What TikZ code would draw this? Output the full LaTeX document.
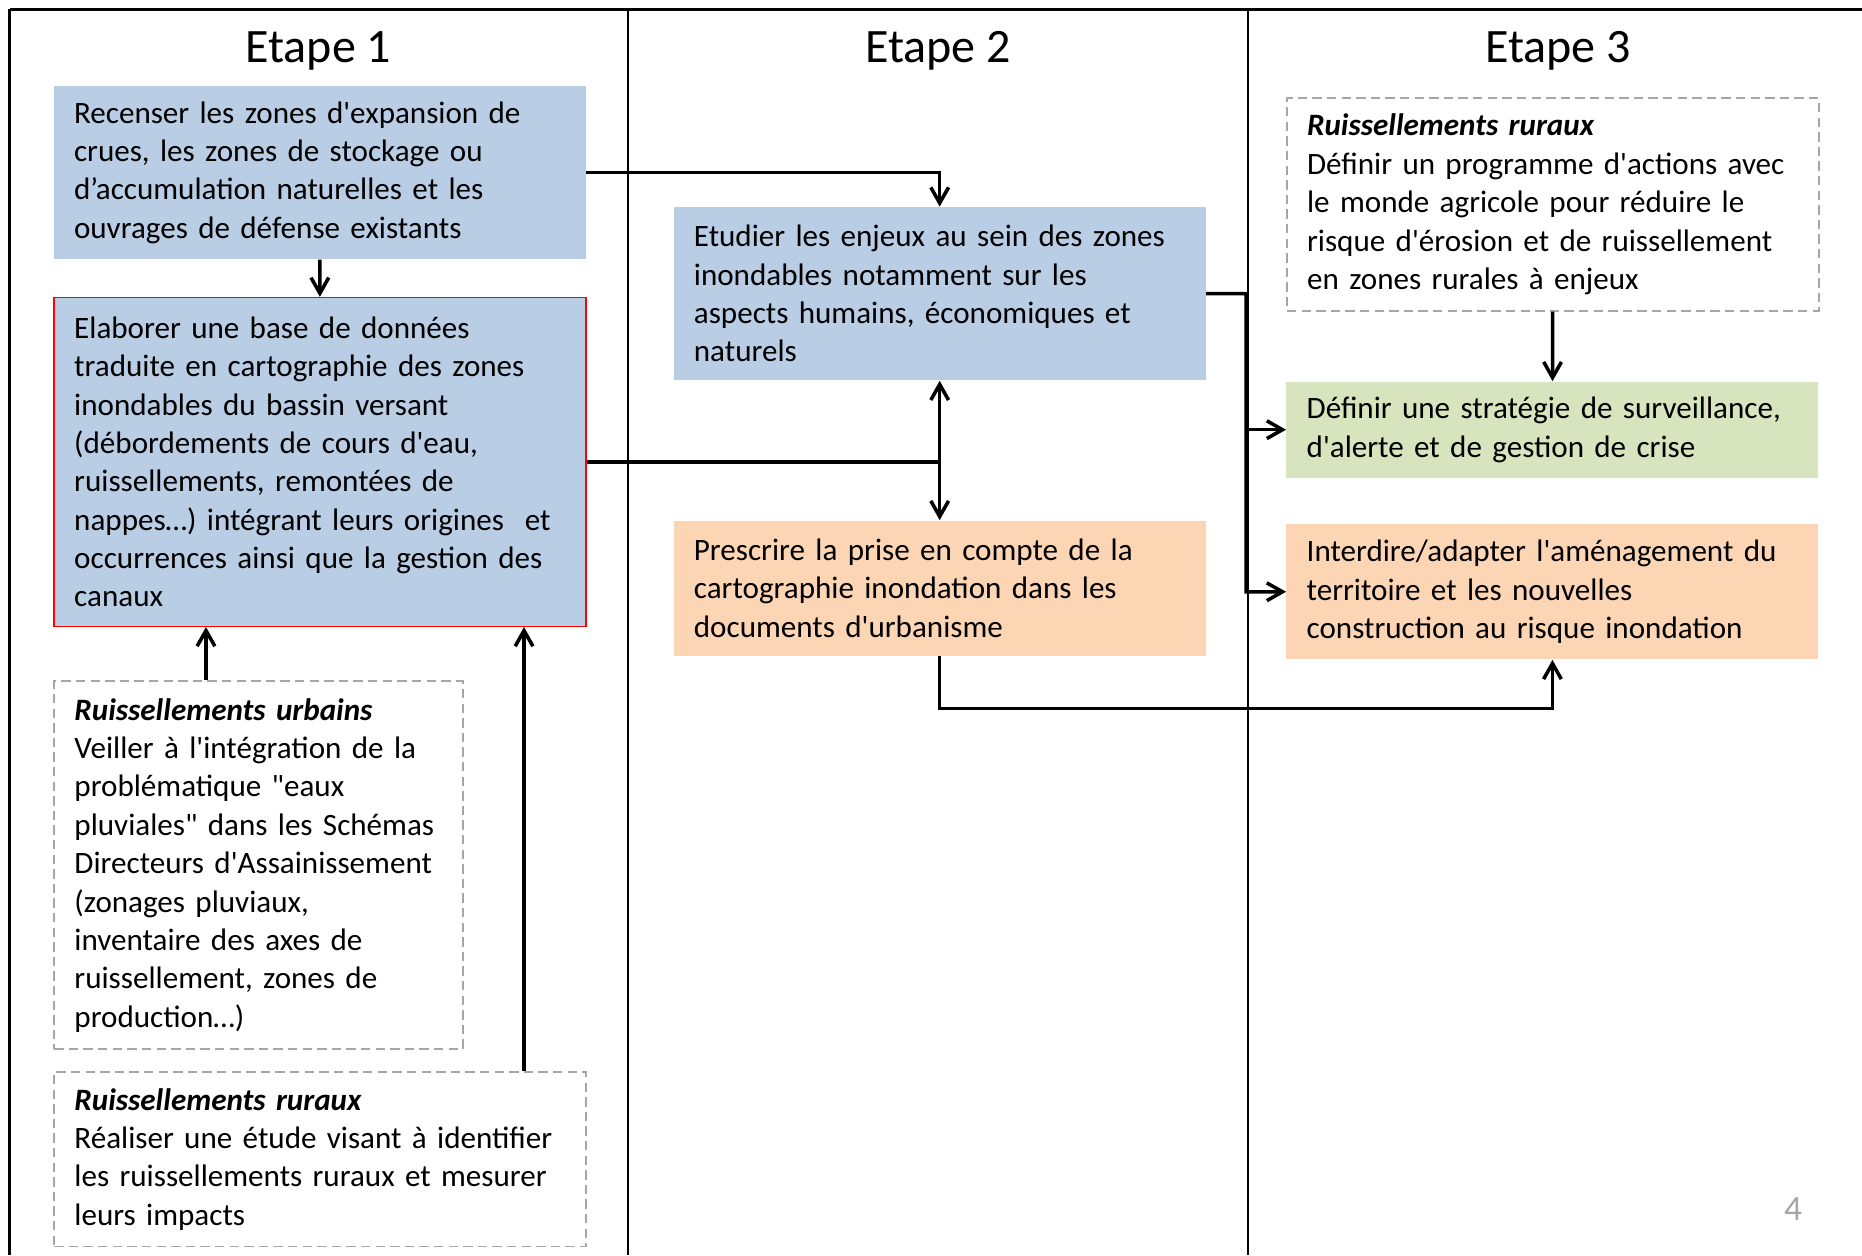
\documentclass[tikz,border=0pt]{standalone}
\usepackage{fontspec}
\setmainfont{Carlito}[Ligatures=TeXOff]
\usetikzlibrary{calc}
\usetikzlibrary{arrows.meta}
\definecolor{bleu}{HTML}{B9CDE5}
\definecolor{saumon}{HTML}{FCD5B5}
\definecolor{vert}{HTML}{D7E4BD}
\definecolor{gristrait}{HTML}{A6A6A6}
\newcommand{\titre}[3]{\node[font=\fontsize{23}{27}\selectfont] (#1) at (#2,43) {#3};}
\newcommand{\rub}[1]{\textbf{\textit{#1}}}
\tikzset{
  bloc/.style={anchor=north west, inner xsep=0.34cm, inner ysep=0pt, text width=8.28cm, align=left, font=\fontsize{14.9}{18.4}\selectfont},
  bleubloc/.style={bloc, fill=bleu},
  saumonbloc/.style={bloc, fill=saumon},
  vertbloc/.style={bloc, fill=vert},
  pointille/.style={bloc, draw=gristrait, line width=0.8pt, dash pattern=on 4.5pt off 2.5pt},
  pointe/.tip={Straight Barb[length=7.5pt,width=8.5pt]},
  fleche/.style={line width=1.7pt, -pointe},
  cadre/.style={line width=1.1pt},
}

\begin{document}
\begin{tikzpicture}[x=0.02cm, y=-0.02cm]
    \useasboundingbox (0,0) rectangle (1568,1057);
    %columns
    \draw[cadre] (8,8) -- (1568,8);
    \draw[cadre] (8,8) -- (8,1057);
    \draw[cadre] (529,8) -- (529,1057);
    \draw[cadre] (1051,8) -- (1051,1057);
    \titre{t1}{268}{Etape 1}
    \titre{t2}{790}{Etape 2}
    \titre{t3}{1312}{Etape 3}
    
    %nodes
    \node[bleubloc, minimum height=2.92cm] (recenser) at (45,72) {Recenser les zones d'expansion de\\ crues, les zones de stockage ou\\ d’accumulation naturelles et les\\ ouvrages de défense existants};
    \node[bleubloc, draw=red, line width=0.6pt, minimum height=5.54cm] (base) at (45,250) {Elaborer une base de données\\ traduite en cartographie des zones\\ inondables du bassin versant\\ (débordements de cours d'eau,\\ ruissellements, remontées de\\ nappes…) intégrant leurs origines~ et\\ occurrences ainsi que la gestion des\\ canaux};
    \node[pointille, text width=6.2cm, minimum height=6.2cm] (urbains) at (45,573) {\rub{Ruissellements urbains}\\ Veiller à l'intégration de la\\ problématique "eaux\\ pluviales" dans les Schémas\\ Directeurs d'Assainissement\\ (zonages pluviaux,\\ inventaire des axes de\\ ruissellement, zones de\\ production…)};
    \node[pointille, minimum height=2.94cm] (ruraux) at (45,902) {\rub{Ruissellements ruraux}\\ Réaliser une étude visant à identifier\\ les ruissellements ruraux et mesurer\\ leurs impacts};
    
    \node[bleubloc, minimum height=2.92cm] (enjeux) at (567,174) {Etudier les enjeux au sein des zones\\ inondables notamment sur les\\ aspects humains, économiques et\\ naturels};
    \node[saumonbloc, minimum height=2.28cm] (prescrire) at (567,438) {Prescrire la prise en compte de la\\ cartographie inondation dans les\\ documents d'urbanisme};
    
    \node[pointille, minimum height=3.58cm] (actions) at (1083,82) {\rub{Ruissellements ruraux}\\ Définir un programme d'actions avec\\ le monde agricole pour réduire le\\ risque d'érosion et de ruissellement\\ en zones rurales à enjeux};
    \node[vertbloc, minimum height=1.62cm] (alerte) at (1083,321) {Définir une stratégie de surveillance,\\ d'alerte et de gestion de crise};
    \node[saumonbloc, minimum height=2.28cm] (interdire) at (1083,441) {Interdire/adapter l'aménagement du\\ territoire et les nouvelles\\ construction au risque inondation};
    
    \node[text=gristrait, font=\fontsize{17}{19}\selectfont] (page) at (1510,1018) {4};
    
    %edges
    \coordinate (u) at ($(urbains.north west)!0.372!(urbains.north east)$);
    \coordinate (r) at ($(ruraux.north west)!0.882!(ruraux.north east)$);
    \coordinate (j) at ($(enjeux.east)!0.5!(alerte.west |- enjeux.east)$);
    \draw[fleche] (recenser) -- (base);
    \draw[fleche] (u) -- (u |- base.south);
    \draw[fleche] (r) -- (r |- base.south);
    \draw[fleche] (recenser.east) -| (enjeux.north);
    \draw[line width=1.7pt] (base.east) -- (base.east -| enjeux.south);
    \draw[fleche, pointe-pointe] (enjeux.south) -- (prescrire.north);
    \draw[fleche] (enjeux.east) -- (j) |- (interdire.west);
    \draw[fleche] (j |- alerte.west) -- (alerte.west);
    \draw[fleche] (actions) -- (alerte);
    \draw[fleche] (prescrire.south) -- ++(0,44) -| (interdire.south);
\end{tikzpicture}
\end{document}
